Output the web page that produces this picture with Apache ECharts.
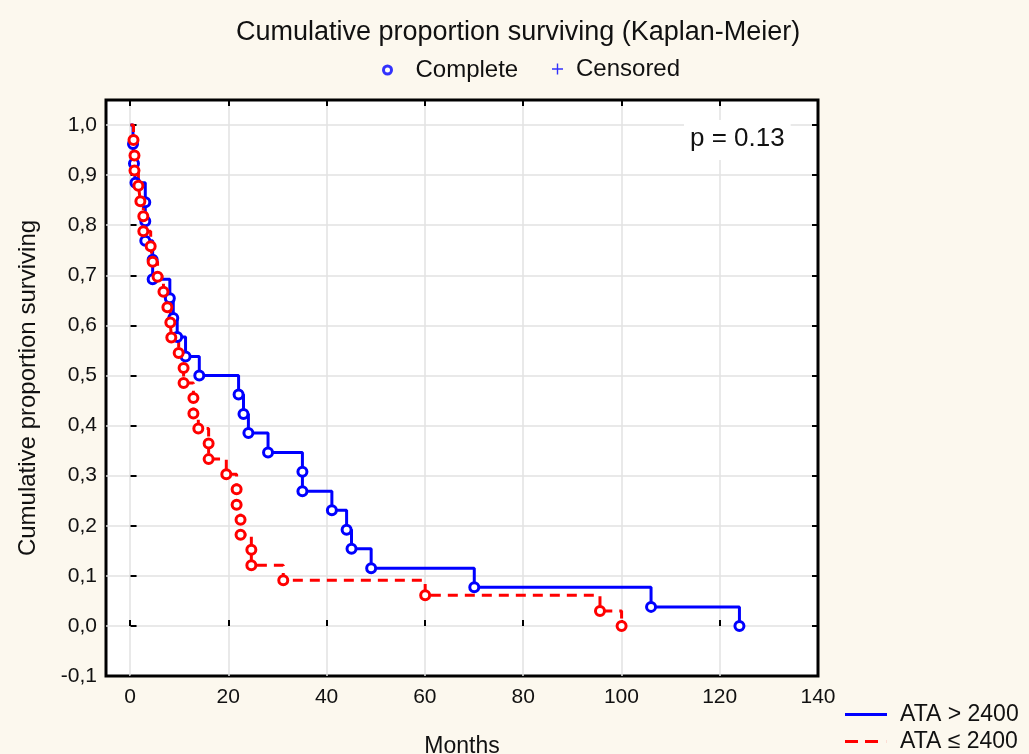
<!DOCTYPE html>
<html lang="en">
<head>
<meta charset="UTF-8">
<title>Cumulative proportion surviving (Kaplan-Meier)</title>
<script src="https://cdn.jsdelivr.net/npm/echarts@6.0.0/dist/echarts.min.js"></script>
<style>
  html, body { margin: 0; padding: 0; background: #fcf8ee; }
  #chart { width: 1029px; height: 754px; }
</style>
</head>
<body>
<div id="chart"></div>
<script>
// ATA > 2400 (blue, solid)
const highTimes = [0, 0.5, 0.7, 1, 3, 3, 3, 4.5, 4.5, 8, 8.7, 9.5, 11.2, 14, 22, 23, 24, 28, 35, 35, 41, 44, 45, 49, 70, 106, 124];
const highSurv = [1.0, 0.962, 0.923, 0.885, 0.846, 0.808, 0.769, 0.731, 0.692, 0.654, 0.615, 0.577, 0.538, 0.5, 0.462, 0.423, 0.385, 0.346, 0.308, 0.269, 0.231, 0.192, 0.154, 0.115, 0.077, 0.038, 0];

// ATA <= 2400 (red, dashed)
const lowTimes = [0, 0.6, 0.8, 0.8, 1.6, 2, 2.6, 2.6, 4.1, 4.5, 5.5, 6.7, 7.5, 8.1, 8.3, 9.8, 10.8, 10.8, 12.8, 12.8, 13.8, 15.9, 15.9, 19.5, 21.6, 21.6, 22.4, 22.4, 24.6, 24.6, 31.1, 60, 95.6, 100];
const lowSurv = [1.0, 0.970, 0.939, 0.909, 0.879, 0.848, 0.818, 0.788, 0.758, 0.727, 0.697, 0.667, 0.636, 0.606, 0.576, 0.545, 0.515, 0.485, 0.455, 0.424, 0.394, 0.364, 0.333, 0.303, 0.273, 0.242, 0.212, 0.182, 0.152, 0.121, 0.091, 0.061, 0.030, 0];

const seriesNames = ['ATA > 2400', 'ATA ≤ 2400'];
const markNames = ['Complete', 'Censored'];

const font = 'Liberation Sans, Arial, sans-serif';
const ink = '#111111';
const blue = '#0000ff';
const red = '#ff0000';

// first point is the start of the curve, no marker there
function toData(times, surv) {
  return times.map((t, i) => i === 0 ? { value: [t, surv[i]], symbol: 'none' } : [t, surv[i]]);
}

const chart = echarts.init(document.getElementById('chart'));

const tickStyle = { show: true, inside: true, length: 6, lineStyle: { color: '#000', width: 2 } };
const gridLine = { show: true, showMinLine: false, showMaxLine: false, lineStyle: { color: '#e2e2e2', width: 1.5 } };

// one legend box per key entry, so each can sit where the reference has it
function keyLegend(item, left, top, w, h, pad, size) {
  return {
    data: [item], left: left, top: top, padding: 0,
    itemWidth: w, itemHeight: h, selectedMode: false,
    textStyle: { fontSize: size, color: ink, fontFamily: font, padding: [0, 0, 0, pad] }
  };
}

const option = {
  backgroundColor: '#fcf8ee',
  animation: false,
  textStyle: { fontFamily: font },
  title: {
    text: 'Cumulative proportion surviving (Kaplan-Meier)',
    left: 231,
    top: 14,
    textStyle: { fontSize: 27, fontWeight: 'normal', color: ink, fontFamily: font }
  },
  legend: [
    keyLegend({ name: markNames[0], icon: 'circle', itemStyle: { color: '#ffffff', borderColor: blue, borderWidth: 3 } }, 382, 58, 8, 8, 19, 24),
    keyLegend({ name: markNames[1], icon: 'path://M4.3,0H5.7V11H4.3Z M-0.5,4.8H10.5V6.2H-0.5Z', itemStyle: { color: blue, borderWidth: 0 } }, 552, 57, 11, 11, 8, 24),
    keyLegend({ name: seriesNames[0], icon: 'path://M0,0H42V3H0Z', itemStyle: { color: blue, borderWidth: 0 } }, 845, 703, 42, 3, 8, 23),
    keyLegend({ name: seriesNames[1], icon: 'path://M0,0H13V3H0Z M20,0H33V3H20Z M41.9,0H42V3H41.9Z', itemStyle: { color: red, borderWidth: 0 } }, 845, 730, 42, 3, 8, 23)
  ],
  grid: [
    { left: 106, top: 100, width: 712, height: 576, show: true, backgroundColor: '#ffffff', borderColor: '#000', borderWidth: 3, outerBoundsMode: 'none' },
    { left: 130, top: 100, width: 688, height: 576, show: false, outerBoundsMode: 'none' }
  ],
  xAxis: [
    {
      gridIndex: 0, type: 'value', min: -5, max: 140,
      axisLine: { show: false }, axisTick: { show: false }, axisLabel: { show: false }, splitLine: { show: false },
      name: 'Months', nameLocation: 'middle', nameGap: 59,
      nameTextStyle: { fontSize: 23, color: ink, fontFamily: font }
    },
    {
      gridIndex: 1, type: 'value', min: 0, max: 140, interval: 20, position: 'bottom',
      axisLine: { show: false }, axisTick: tickStyle,
      axisLabel: { fontSize: 21, color: ink, margin: 11, fontFamily: font },
      splitLine: { show: true, showMinLine: true, showMaxLine: false, lineStyle: { color: '#e2e2e2', width: 1.5 } }
    },
    {
      gridIndex: 1, type: 'value', min: 0, max: 140, interval: 20, position: 'top',
      axisLine: { show: false }, axisTick: tickStyle, axisLabel: { show: false }, splitLine: { show: false }
    }
  ],
  yAxis: [
    {
      gridIndex: 0, type: 'value', min: -0.1, max: 1.05, interval: 0.1, position: 'left',
      axisLine: { show: false }, axisTick: tickStyle,
      axisLabel: {
        fontSize: 21, color: ink, margin: 9, fontFamily: font, showMaxLabel: false,
        formatter: v => v.toFixed(1).replace('.', ',')
      },
      splitLine: gridLine,
      name: 'Cumulative proportion surviving', nameLocation: 'middle', nameGap: 66,
      nameTextStyle: { fontSize: 24, color: ink, fontFamily: font }
    },
    {
      gridIndex: 0, type: 'value', min: -0.1, max: 1.05, interval: 0.1, position: 'right',
      axisLine: { show: false }, axisTick: tickStyle, axisLabel: { show: false }, splitLine: { show: false }
    },
    { gridIndex: 1, type: 'value', min: -0.1, max: 1.05, show: false }
  ],
  graphic: [
    {
      type: 'text', left: 684, top: 120, z: 10,
      style: {
        text: 'p = 0.13', fontSize: 26, fill: ink, fontFamily: font,
        backgroundColor: '#ffffff', padding: [6, 6, 8, 6]
      }
    }
  ],
  series: [
    {
      name: seriesNames[0], type: 'line', step: 'end',
      xAxisIndex: 0, yAxisIndex: 0,
      data: toData(highTimes, highSurv),
      symbol: 'circle', symbolSize: 9, showAllSymbol: true,
      lineStyle: { color: blue, width: 3 },
      itemStyle: { color: '#ffffff', borderColor: blue, borderWidth: 3 },
      emphasis: { disabled: true }
    },
    {
      name: seriesNames[1], type: 'line', step: 'end',
      xAxisIndex: 0, yAxisIndex: 0,
      data: toData(lowTimes, lowSurv),
      symbol: 'circle', symbolSize: 9, showAllSymbol: true,
      lineStyle: { color: red, width: 3, type: [10, 7] },
      itemStyle: { color: '#ffffff', borderColor: red, borderWidth: 3 },
      emphasis: { disabled: true }
    },
    // legend-only entries for the marker key
    { name: markNames[0], type: 'scatter', xAxisIndex: 0, yAxisIndex: 0, data: [], itemStyle: { color: blue } },
    { name: markNames[1], type: 'scatter', xAxisIndex: 0, yAxisIndex: 0, data: [], itemStyle: { color: blue } }
  ]
};

chart.setOption(option);
</script>
</body>
</html>
